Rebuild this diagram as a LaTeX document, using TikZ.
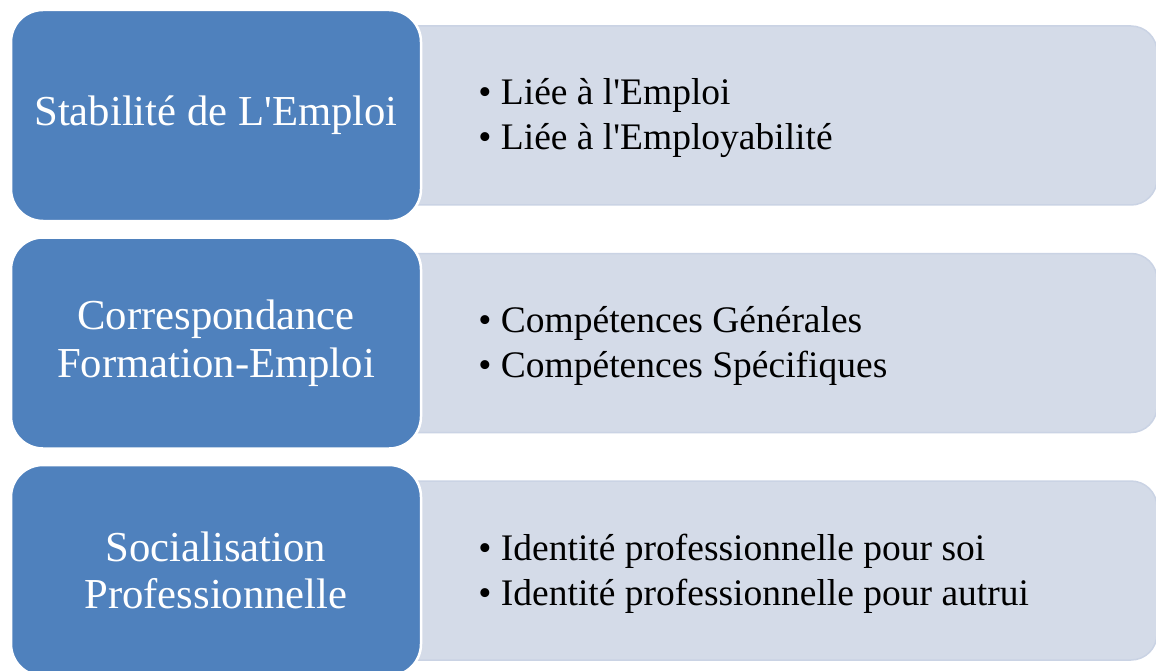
\documentclass[tikz,border=0pt]{standalone}
\usepackage{fontspec}
\setmainfont{Liberation Serif}[Ligatures=TeXOff]
\usetikzlibrary{positioning,backgrounds}
\definecolor{titrebleu}{HTML}{4F81BD}
\definecolor{listegris}{HTML}{D4DBE8}
\definecolor{listebord}{HTML}{CAD3E4}

\begin{document}
\begin{tikzpicture}[x=1pt, y=-1pt,
  titre/.style={rectangle, rounded corners=32pt, fill=titrebleu, draw=white, line width=2.5pt,
    minimum width=410pt, minimum height=211pt, text=white, align=center,
    font=\fontsize{42.7}{47.5}\selectfont},
  liste/.style={rectangle, rounded corners=26pt, fill=listegris, draw=listebord, line width=1.5pt,
    minimum width=775pt, minimum height=179pt},
  puces/.style={anchor=west, align=left, inner sep=0pt, font=\fontsize{37.5}{45}\selectfont}]
  \path[use as bounding box] (0,0) rectangle (1156,671);
  \clip (0,0) rectangle (1156,671);

  % blocs de gauche
  \node[titre] (stab) at (216,115.5) {Stabilité de L'Emploi};
  \node[titre, below=14pt of stab] (corr) {Correspondance\\Formation-Emploi};
  \node[titre, below=14pt of corr] (soc) {Socialisation\\Professionnelle};

  % bandeaux de droite
  \begin{scope}[on background layer]
    \node[liste, right=-41pt of stab] (stabL) {};
    \node[liste, right=-41pt of corr] (corrL) {};
    \node[liste, right=-41pt of soc] (socL) {};
  \end{scope}

  \node[puces] (stabT) at ([xshift=56pt,yshift=-3pt]stab.east) {• Liée à l'Emploi\\• Liée à l'Employabilité};
  \node[puces] (corrT) at ([xshift=56pt,yshift=-3pt]corr.east) {• Compétences Générales\\• Compétences Spécifiques};
  \node[puces] (socT) at ([xshift=56pt,yshift=-3pt]soc.east) {• Identité professionnelle pour soi\\• Identité professionnelle pour autrui};
\end{tikzpicture}
\end{document}
